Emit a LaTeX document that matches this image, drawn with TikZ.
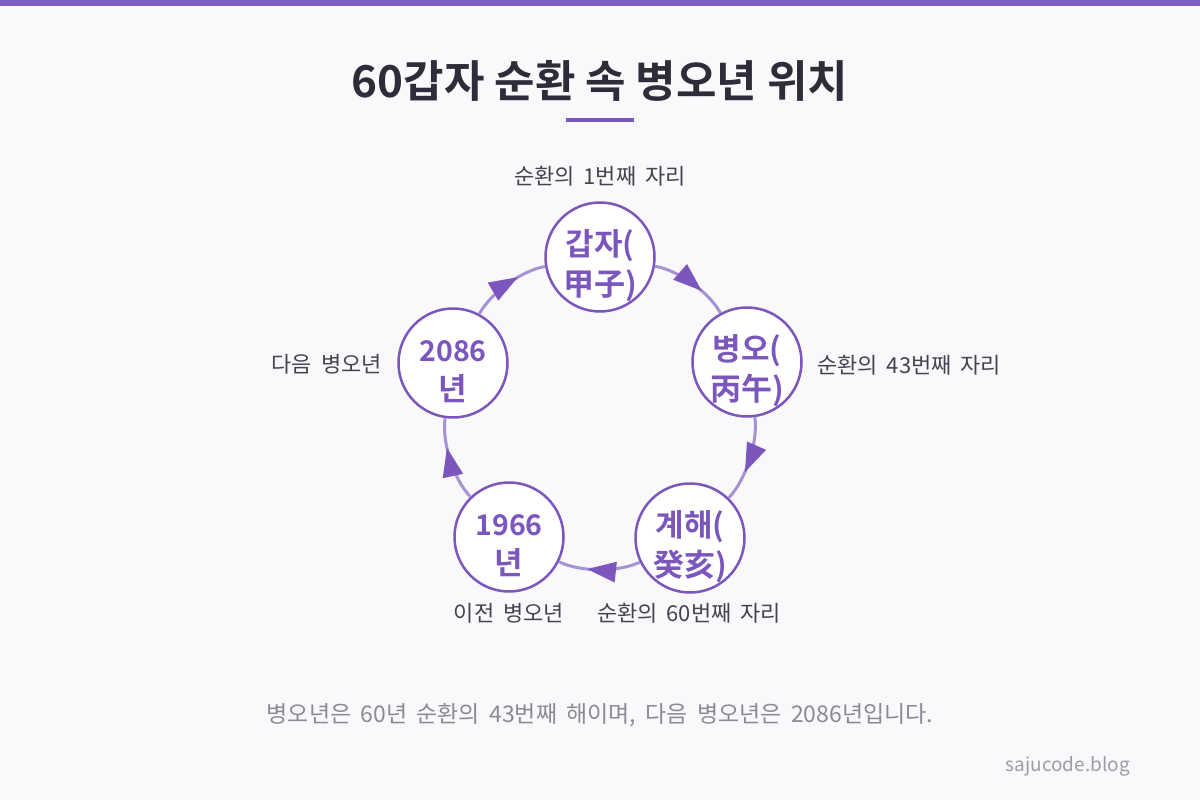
\documentclass[tikz,border=0pt]{standalone}
\usepackage{fontspec}
\setmainfont{Noto Sans CJK KR}
\newfontfamily\krb{Noto Sans CJK KR Bold}
\newfontfamily\krl{Noto Sans CJK KR}[WordSpace=1.8]
\usetikzlibrary{arrows.meta,decorations.markings,calc}
\definecolor{bg}{HTML}{F9F9FC}
\definecolor{bar}{HTML}{7C5CBF}
\definecolor{nodec}{HTML}{7B56BC}
\definecolor{linec}{HTML}{A593D3}
\definecolor{titlec}{HTML}{2D2D3A}
\definecolor{labc}{HTML}{444450}
\definecolor{footc}{HTML}{8A8A95}
\definecolor{markc}{HTML}{9D9DA8}
\begin{document}
\begin{tikzpicture}[x=1pt,y=-1pt,
 circ/.style={circle,draw=nodec,line width=2.5pt,fill=white,minimum size=109pt,inner sep=0pt},
 nt/.style={anchor=base,text=nodec,font=\krb\fontsize{31}{31}\selectfont,inner sep=0pt},
 ntd/.style={anchor=base,text=nodec,font=\krb\fontsize{28.5}{28.5}\selectfont,inner sep=0pt},
 lab/.style={text=labc,font=\krl\fontsize{22}{22}\selectfont,inner sep=0pt},
 conn/.style={draw=linec,line width=3pt,bend left=26,looseness=0.75,postaction={decorate},
   decoration={markings,mark=at position 0.65 with {\arrow{Triangle[length=29pt,width=20pt,color=nodec]}}}},
]
\fill[bg] (0,0) rectangle (1200,800);
\useasboundingbox (0,0) rectangle (1200,800);
\fill[bar] (0,0) rectangle (1200,6);

\node[font=\krb\fontsize{44}{44}\selectfont,text=titlec,anchor=base,inner sep=0pt] (title) at (600,97) {60갑자 순환 속 병오년 위치};
\fill[nodec] (566,118) rectangle (634,122);

\node[circ] (g) at (600,257) {};
\node[circ] (b) at (747,362) {};
\node[circ] (k) at (690,538) {};
\node[circ] (p) at (509,537) {};
\node[circ] (n) at (453,363) {};

\draw[conn] (g) to (b);
\draw[conn] (b) to (k);
\draw[conn] (k) to (p);
\draw[conn] (p) to (n);
\draw[conn] (n) to (g);

\node[nt] (g1) at (600,255) {갑자(};
\node[nt] (g2) at (600,295) {甲子)};
\node[nt] (b1) at (747,360) {병오(};
\node[nt] (b2) at (747,400) {丙午)};
\node[nt] (k1) at (690,536) {계해(};
\node[nt] (k2) at (690,576) {癸亥)};
\node[ntd] (p1) at (509,535) {1966};
\node[nt] (p2) at (509,574) {년};
\node[ntd] (n1) at (453,361) {2086};
\node[nt] (n2) at (453,400) {년};

\node[lab,anchor=base] (l1) at (600,184) {순환의 1번째 자리};
\node[lab,anchor=base west] (l2) at (817,373) {순환의 43번째 자리};
\node[lab,anchor=base] (l3) at (689,621) {순환의 60번째 자리};
\node[lab,anchor=base] (l4) at (509,621) {이전 병오년};
\node[lab,anchor=base east] (l5) at (382,372) {다음 병오년};

\node[font=\krl\fontsize{23}{23}\selectfont,text=footc,anchor=base,inner sep=0pt] (foot) at (600,722) {병오년은 60년 순환의 43번째 해이며, 다음 병오년은 2086년입니다.};
\node[font=\fontsize{19}{19}\selectfont,text=markc,anchor=base east,inner sep=0pt] (mark) at (1130,771) {sajucode.blog};
\end{tikzpicture}
\end{document}
